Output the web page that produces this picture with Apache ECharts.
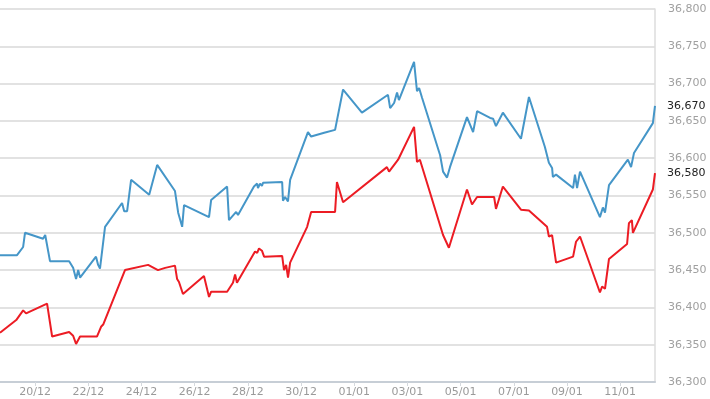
<!DOCTYPE html>
<html>
<head>
<meta charset="utf-8">
<script src="https://cdn.jsdelivr.net/npm/echarts@6/dist/echarts.min.js"></script>
<style>
  html, body { margin: 0; padding: 0; background: #fff; }
  #main { width: 710px; height: 399px; }
</style>
</head>
<body>
<div id="main"></div>
<script>
// x = days since 20/12
var xTickDays = [0, 2, 4, 6, 8, 10, 12, 14, 16, 18, 20, 22];
var xTickLabels = ['20/12', '22/12', '24/12', '26/12', '28/12', '30/12', '01/01', '03/01', '05/01', '07/01', '09/01', '11/01'];

var blueDays = [-1.32, -0.68, -0.45, -0.38, 0.30, 0.38, 0.45, 0.56, 1.28, 1.43, 1.54, 1.62, 1.69, 2.29, 2.37, 2.44, 2.63, 3.27, 3.35, 3.46, 3.61, 4.29, 4.59, 5.26, 5.38, 5.53, 5.60, 6.54, 6.62, 7.22, 7.29, 7.56, 7.63, 8.23, 8.35, 8.38, 8.46, 8.53, 8.57, 9.29, 9.32, 9.40, 9.51, 9.59, 10.26, 10.38, 10.87, 11.28, 11.58, 12.29, 13.27, 13.35, 13.50, 13.61, 13.68, 14.25, 14.36, 14.44, 14.55, 15.23, 15.34, 15.41, 15.49, 15.60, 16.24, 16.47, 16.62, 17.11, 17.22, 17.33, 17.59, 18.27, 18.57, 19.17, 19.32, 19.44, 19.47, 19.59, 20.23, 20.30, 20.38, 20.49, 20.56, 21.24, 21.35, 21.43, 21.58, 22.29, 22.41, 22.52, 23.23, 23.31];
var blueValues = [36470, 36470, 36481, 36500, 36492, 36497, 36495, 36462, 36462, 36453, 36438, 36450, 36440, 36468, 36457, 36452, 36508, 36540, 36529, 36529, 36571, 36551, 36591, 36556, 36527, 36508, 36537, 36521, 36544, 36562, 36517, 36528, 36524, 36562, 36566, 36560, 36566, 36563, 36567, 36568, 36543, 36548, 36542, 36571, 36635, 36629, 36634, 36638, 36692, 36661, 36685, 36667, 36674, 36688, 36678, 36729, 36690, 36694, 36681, 36604, 36582, 36584, 36574, 36588, 36655, 36635, 36663, 36654, 36653, 36643, 36661, 36626, 36682, 36615, 36594, 36587, 36575, 36578, 36560, 36578, 36560, 36582, 36580, 36521, 36534, 36527, 36564, 36598, 36588, 36607, 36647, 36670];

var redDays = [-1.32, -0.71, -0.45, -0.34, 0.45, 0.64, 1.28, 1.43, 1.54, 1.69, 2.33, 2.48, 2.56, 3.38, 4.25, 4.62, 4.89, 5.26, 5.34, 5.41, 5.56, 6.35, 6.54, 6.62, 7.22, 7.44, 7.52, 7.59, 8.27, 8.35, 8.42, 8.53, 8.61, 9.29, 9.36, 9.44, 9.51, 9.59, 10.23, 10.38, 10.87, 11.28, 11.35, 11.58, 13.23, 13.31, 13.65, 14.25, 14.36, 14.47, 15.34, 15.41, 15.56, 16.24, 16.43, 16.50, 16.62, 17.26, 17.33, 17.59, 18.27, 18.57, 19.25, 19.32, 19.44, 19.59, 20.23, 20.34, 20.49, 21.24, 21.32, 21.43, 21.58, 22.26, 22.33, 22.44, 22.48, 23.23, 23.31];
var redValues = [36366, 36383, 36396, 36392, 36405, 36361, 36367, 36362, 36351, 36361, 36361, 36374, 36377, 36450, 36457, 36450, 36453, 36456, 36438, 36434, 36418, 36442, 36414, 36421, 36421, 36433, 36444, 36433, 36475, 36473, 36479, 36476, 36468, 36469, 36450, 36457, 36440, 36460, 36508, 36528, 36528, 36528, 36568, 36541, 36588, 36582, 36598, 36642, 36595, 36598, 36497, 36495, 36480, 36558, 36538, 36539, 36548, 36548, 36532, 36562, 36531, 36530, 36508, 36495, 36497, 36460, 36468, 36488, 36495, 36420, 36428, 36425, 36465, 36485, 36513, 36517, 36500, 36558, 36580];

function pairs(xs, ys) {
    var out = [];
    for (var i = 0; i < xs.length; i++) out.push([xs[i], ys[i]]);
    return out;
}

function fmt(v) {
    return String(v).replace(/\B(?=(\d{3})+(?!\d))/g, ',');
}

var chart = echarts.init(document.getElementById('main'));

function endLabel() {
    return {
        show: true,
        distance: 12,
        fontFamily: 'DejaVu Sans',
        fontSize: 11,
        color: '#222',
        formatter: function (p) { return fmt(p.value[1]); }
    };
}

chart.setOption({
    animation: false,
    grid: { left: 0, right: 55, top: 9, bottom: 17 },
    xAxis: {
        type: 'value',
        min: blueDays[0],
        max: blueDays[blueDays.length - 1],
        axisLine: { onZero: false, lineStyle: { color: '#c7ced6', width: 2 } },
        axisTick: { show: true, customValues: xTickDays, length: 4, lineStyle: { color: '#d5d9de' } },
        axisLabel: {
            customValues: xTickDays,
            margin: 5,
            color: '#9a9a9a',
            fontFamily: 'DejaVu Sans',
            fontSize: 11,
            formatter: function (v) {
                var i = xTickDays.indexOf(Math.round(v));
                return i >= 0 ? xTickLabels[i] : '';
            }
        },
        splitLine: { show: false }
    },
    yAxis: {
        type: 'value',
        position: 'right',
        min: 36300,
        max: 36800,
        interval: 50,
        axisLine: { show: true, onZero: false, lineStyle: { color: '#dcdcdc', width: 1.5 } },
        axisTick: { show: false },
        axisLabel: {
            margin: 13,
            color: '#a0a0a0',
            fontFamily: 'DejaVu Sans',
            fontSize: 11,
            formatter: fmt
        },
        splitLine: { lineStyle: { color: '#d9d9d9', width: 1.5 } }
    },
    series: [{
        name: 'blue',
        type: 'line',
        data: pairs(blueDays, blueValues),
        symbol: 'none',
        lineStyle: { color: '#4596c8', width: 2 },
        endLabel: endLabel()
    }, {
        name: 'red',
        type: 'line',
        data: pairs(redDays, redValues),
        symbol: 'none',
        lineStyle: { color: '#ec1c24', width: 2 },
        endLabel: endLabel()
    }]
});
</script>
</body>
</html>
